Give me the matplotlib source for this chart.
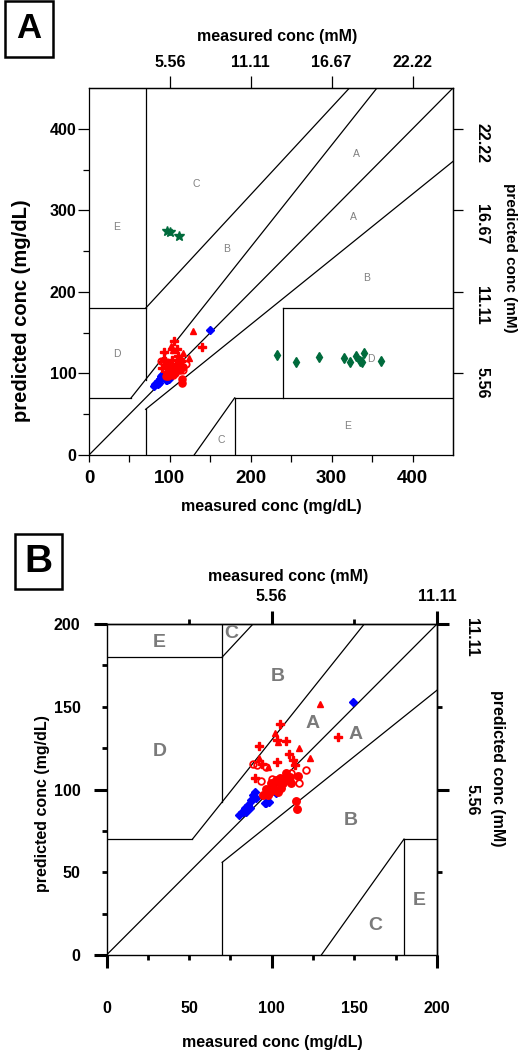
import matplotlib
matplotlib.use("Agg")
import matplotlib.pyplot as plt

plt.rcParams['font.family'] = ['Liberation Sans', 'DejaVu Sans']
plt.rcParams['font.weight'] = 'bold'

# ---------------- data (mg/dL) ----------------
blue_x = [149, 89.7, 88.7, 87.7, 85.7, 83.7, 81.7, 80.3, 84.7, 86.7, 95.8, 98.4, 98.8, 102.8, 90.7, 87.9, 82.7, 96.8]
blue_y = [152.7, 98.7, 96.6, 93.7, 90.6, 88.6, 86.6, 84.5, 86.6, 88.6, 91.7, 92.7, 100.7, 97.7, 94.7, 93.6, 86.6, 91.7]

dot_x = [114.5, 115.3, 94.8, 98.8, 100.8, 102.8, 104.8, 106.8, 108.9, 110.9, 111.9, 115.9, 105.8, 103.8, 101.8, 97.8, 108.9, 104.8, 99.8, 96.5]
dot_y = [93.2, 88.0, 96.6, 98.7, 101.7, 105.7, 106.8, 103.7, 105.7, 107.8, 103.7, 108.2, 100.7, 98.7, 99.7, 96.6, 109.8, 103.7, 103.7, 100.5]

ring_x = [88.7, 93.7, 100.2, 120.5, 116.3, 111.5, 96.8, 91.0]
ring_y = [115.4, 105.1, 106.1, 111.8, 103.7, 110.2, 113.8, 115.0]

plus_x = [105.2, 92.3, 108.5, 110.3, 103.2, 112.9, 140.1, 89.7, 113.9, 103.2, 94.0]
plus_y = [139.8, 126.5, 129.5, 121.5, 116.8, 117.8, 131.9, 106.8, 114.8, 129.9, 115.5]

tri_x = [129.0, 101.8, 116.3, 123.4, 92.3, 97.8, 103.8]
tri_y = [151.5, 133.9, 124.9, 118.9, 118.9, 113.3, 128.9]

star_x = [96.7, 100.0, 111.5]
star_y = [275, 273, 269]

gdia_x = [232.5, 256.4, 284.4, 314.8, 322.2, 330.5, 334.6, 337.5, 340.4, 360.5]
gdia_y = [122.7, 114.5, 120.2, 119.4, 114.5, 121.5, 115.7, 113.7, 124.8, 114.9]

# error grid boundaries
grid_segments = [
    [(0, 450), (0, 450)],
    [(0, 52), (70, 70)],
    [(52, 356), (70, 450)],
    [(70, 70), (92.5, 450)],
    [(0, 70), (180, 180)],
    [(70, 322), (180, 450)],
    [(70, 70), (0, 56)],
    [(70, 450), (56, 360)],
    [(130, 180), (0, 70)],
    [(180, 180), (0, 70)],
    [(180, 450), (70, 70)],
    [(240, 240), (70, 180)],
    [(240, 450), (180, 180)],
]

labels_a = [('E', 34, 280), ('C', 132, 332), ('A', 330, 369), ('A', 327, 292),
            ('B', 170, 253), ('B', 343, 217), ('D', 34, 124), ('D', 348, 118),
            ('E', 320, 36), ('C', 164, 18)]
labels_b = [('E', 32, 189), ('C', 75.5, 194), ('B', 103.5, 168), ('D', 32, 123),
            ('A', 124.5, 140), ('A', 151, 133), ('B', 148, 81), ('C', 162.5, 18),
            ('E', 189.5, 33)]

W, H = 519, 1050
fig = plt.figure(figsize=(W / 100, H / 100), dpi=100)


def fx(px):
    return px / W


def fy(py):
    return 1 - py / H


def draw_data(ax, s):
    ax.plot(blue_x, blue_y, 'D', color='#0000ff', ms=4 * s, mec='#0000ff', ls='none')
    ax.plot(dot_x, dot_y, 'o', color='#ff0000', ms=5.4 * s, mec='#ff0000', ls='none')
    ax.plot(ring_x, ring_y, 'o', mfc='none', mec='#ff0000', mew=1.3, ms=4.8 * s, ls='none')
    ax.plot(plus_x, plus_y, 'P', color='#ff0000', ms=6 * s, mec='#ff0000', ls='none')
    ax.plot(tri_x, tri_y, '^', color='#ff0000', ms=5 * s, mec='#ff0000', ls='none')
    ax.plot(star_x, star_y, '*', color='#006b3c', ms=7, ls='none')
    ax.plot(gdia_x, gdia_y, 'd', color='#006b3c', ms=5.5, ls='none')


def draw_grid(ax):
    for xs, ys in grid_segments:
        ax.plot(xs, ys, color='black', lw=0.9)


# ================= panel A =================
axA = fig.add_axes([fx(89), fy(455), (453 - 89) / W, (455 - 88) / H])
axA.set_xlim(0, 450)
axA.set_ylim(0, 450)
draw_grid(axA)
draw_data(axA, 0.95)
for t, x, y in labels_a:
    axA.text(x, y, t, color='#808080', fontsize=7.5, fontweight='normal', ha='center', va='center')
for sp in axA.spines.values():
    sp.set_linewidth(0.9)
axA.set_xticks([0, 100, 200, 300, 400])
axA.set_xticks([50, 150, 250, 350], minor=True)
axA.set_yticks([0, 100, 200, 300, 400])
axA.set_yticks([50, 150, 250, 350], minor=True)
axA.tick_params(axis='x', which='both', length=5, width=0.9, pad=6, labelsize=13.5)
axA.tick_params(axis='y', which='major', length=8, width=0.9, pad=1, labelsize=11.5)
axA.tick_params(axis='y', which='minor', length=4, width=0.9)

topA = axA.secondary_xaxis('top')
topA.set_xticks([100, 200, 300, 400], labels=['5.56', '11.11', '16.67', '22.22'])
topA.tick_params(length=8.6, width=0.9, pad=4, labelsize=11.5)
rightA = axA.secondary_yaxis('right')
rightA.set_yticks([100, 200, 300, 400], labels=['5.56', '11.11', '16.67', '22.22'])
rightA.tick_params(length=7.2, width=0.9, pad=8, labelsize=11.5, labelrotation=-90)
for sec in (topA, rightA):
    for sp in sec.spines.values():
        sp.set_linewidth(0.9)

fig.text(fx(277), fy(36), 'measured conc (mM)', fontsize=11.5, ha='center', va='center')
fig.text(fx(271), fy(507), 'measured conc (mg/dL)', fontsize=11.5, ha='center', va='center')
fig.text(fx(22), fy(311), 'predicted conc (mg/dL)', fontsize=14.5, rotation=90, ha='center', va='center')
fig.text(fx(510), fy(258), 'predicted conc (mM)', fontsize=11, rotation=-90, ha='center', va='center')

# panel letter A
fig.text(fx(29), fy(29), 'A', fontsize=25, ha='center', va='center',
         bbox=dict(boxstyle='square,pad=0.32', fc='white', ec='black', lw=1.8))

# ================= panel B =================
axB = fig.add_axes([fx(106.5), fy(955), (437 - 106.5) / W, (955 - 624) / H])
axB.set_xlim(0, 200)
axB.set_ylim(0, 200)
draw_grid(axB)
draw_data(axB, 1.0)
for t, x, y in labels_b:
    axB.text(x, y, t, color='#7a7a7a', fontsize=14, fontweight='bold', ha='center', va='center')
for sp in axB.spines.values():
    sp.set_linewidth(1.0)

axB.set_xticks([0, 100, 200], labels=['0', '100', '200'])
axB.set_xticks([25, 50, 75, 125, 150, 175], labels=['', '50', '', '', '150', ''], minor=True)
axB.set_yticks([0, 100, 200], labels=['0', '100', '200'])
axB.set_yticks([25, 50, 75, 125, 150, 175], labels=['', '50', '', '', '150', ''], minor=True)
axB.tick_params(axis='x', which='major', length=9.4, width=2.2, pad=23.5, labelsize=11.5)
axB.tick_params(axis='x', which='minor', length=3.6, width=2.0, pad=29.3, labelsize=11.5)
axB.tick_params(axis='y', which='major', length=9.4, width=2.2, pad=9.4, labelsize=11.5)
axB.tick_params(axis='y', which='minor', length=3.6, width=2.0, pad=15.2, labelsize=11.5)

topB = axB.secondary_xaxis('top')
topB.set_xticks([100, 200], labels=['5.56', '11.11'])
topB.set_xticks([50, 150], minor=True)
topB.tick_params(which='major', length=9.4, width=2.2, pad=5, labelsize=11.5)
topB.tick_params(which='minor', length=3.6, width=2.0)
rightB = axB.secondary_yaxis('right')
rightB.set_yticks([100, 200], labels=['5.56', '11.11'])
rightB.set_yticks([50, 150], minor=True)
rightB.tick_params(which='major', length=8.6, width=2.2, pad=11, labelsize=11.5, labelrotation=-90)
rightB.tick_params(which='minor', length=3.6, width=2.0)
for sec in (topB, rightB):
    for sp in sec.spines.values():
        sp.set_linewidth(1.0)

fig.text(fx(288), fy(577), 'measured conc (mM)', fontsize=11.5, ha='center', va='center')
fig.text(fx(272), fy(1042), 'measured conc (mg/dL)', fontsize=11.5, ha='center', va='center')
fig.text(fx(43), fy(804), 'predicted conc (mg/dL)', fontsize=11.5, rotation=90, ha='center', va='center')
fig.text(fx(498), fy(768), 'predicted conc (mM)', fontsize=11.5, rotation=-90, ha='center', va='center')

fig.text(fx(38.5), fy(561.5), 'B', fontsize=28, ha='center', va='center',
         bbox=dict(boxstyle='square,pad=0.25', fc='white', ec='black', lw=1.8))

fig.savefig('out.png', dpi=100)
